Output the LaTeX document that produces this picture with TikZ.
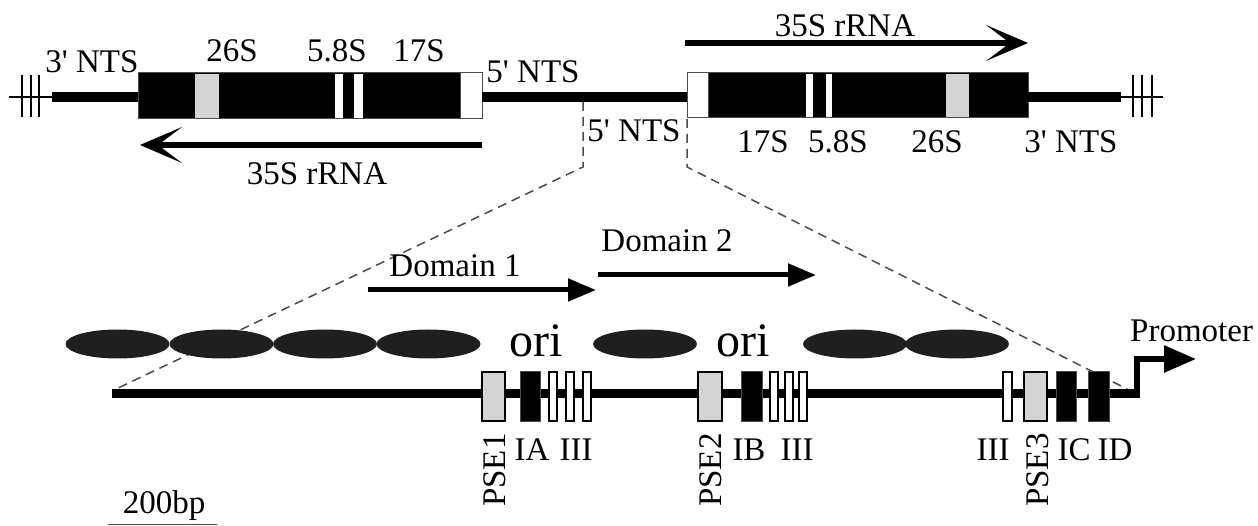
\documentclass[tikz,border=0pt]{standalone}
\usepackage{fontspec}
\setmainfont{Liberation Serif}
\usetikzlibrary{arrows.meta}
\definecolor{lgray}{gray}{0.83}
\definecolor{dgray}{gray}{0.3}
\newcommand{\qs}{\textquotesingle}
\tikzset{
  lbl/.style={font=\fontsize{33}{36}\selectfont, inner sep=0pt, anchor=base},
  orilbl/.style={font=\fontsize{48}{52}\selectfont, inner sep=0pt, anchor=base},
  rot/.style={lbl, rotate=90, anchor=base west},
  thick line/.style={line width=10pt},
  thin line/.style={line width=2pt},
  hatch/.style={line width=2.5pt},
  blk/.style={fill=black, draw=dgray, line width=1pt},
  wht/.style={fill=white, draw=black, line width=1.5pt},
  gry/.style={fill=lgray, draw=black, line width=1.5pt},
  zoomline/.style={dgray, line width=1.5pt, dash pattern=on 9pt off 6pt},
  bigarrow/.style={line width=6pt, -{Stealth[length=42pt,width=36pt,inset=24pt]}},
  domarrow/.style={line width=5pt, -{Triangle[length=28pt,width=22pt]}},
  ell/.style={fill=black!88, draw=none},
}
\begin{document}
\begin{tikzpicture}[x=1pt,y=-1pt]
\useasboundingbox (0,0) rectangle (1258,526);

% ---------- top: left unit ----------
\draw[thin line] (9,97) -- (52,97);
\foreach \hx in {22,31,39} \draw[hatch] (\hx,75) -- (\hx,117);
\draw[thick line] (52,97) -- (138,97);
\path[blk] (138,73) rectangle (482,119);
\path[gry, draw=none] (195,74) rectangle (219,118);
\path[fill=white] (335,74) rectangle (343,118);
\path[fill=white] (354,74) rectangle (363,118);
\path[fill=white, draw=dgray, line width=1pt] (460,73) rectangle (482,119);

% middle spacer
\draw[thick line] (482,97) -- (687,97);

% ---------- top: right unit ----------
\path[blk] (687,73) rectangle (1028,118);
\path[fill=white, draw=dgray, line width=1pt] (687,73) rectangle (708,118);
\path[fill=white] (806,74) rectangle (813,117);
\path[fill=white] (826,74) rectangle (832,117);
\path[gry, draw=none] (946,74) rectangle (969,117);
\draw[thick line] (1028,97) -- (1121,97);
\draw[thin line] (1121,97) -- (1163,97);
\foreach \hx in {1133,1142,1152} \draw[hatch] (\hx,75) -- (\hx,117);

% top labels
\node[lbl] (ntsL) at (92,73) {3\qs{} NTS};
\node[lbl] (s26L) at (232,62) {26S};
\node[lbl] (s58L) at (337,62) {5.8S};
\node[lbl] (s17L) at (419,62) {17S};
\node[lbl] (nts5a) at (533,83) {5\qs{} NTS};
\node[lbl] (nts5b) at (634,142) {5\qs{} NTS};
\node[lbl] (s17R) at (763,153) {17S};
\node[lbl] (s58R) at (838,153) {5.8S};
\node[lbl] (s26R) at (937,153) {26S};
\node[lbl] (ntsR) at (1071,153) {3\qs{} NTS};
\node[lbl] (rnaR) at (845,37) {35S rRNA};
\node[lbl] (rnaL) at (317,185) {35S rRNA};

% transcript arrows
\coordinate (aRs) at (685,43);
\coordinate (aRe) at (1028,43);
\coordinate (aLs) at (482,145);
\coordinate (aLe) at (140,145);
\draw[bigarrow] (aRs) -- (aRe);
\draw[bigarrow] (aLs) -- (aLe);

% ---------- zoom lines ----------
\coordinate (zl0) at (583,102);
\coordinate (zl1) at (583,167);
\coordinate (zl2) at (116,389);
\coordinate (zr0) at (687,119);
\coordinate (zr1) at (687,167);
\coordinate (zr2) at (1127,389);
\draw[zoomline] (zl0) -- (zl1) -- (zl2);
\draw[zoomline] (zr0) -- (zr1) -- (zr2);

% ---------- bottom ----------
\node[lbl] (d1) at (455,277) {Domain 1};
\node[lbl] (d2) at (667,252) {Domain 2};
\coordinate (d1s) at (368,290);
\coordinate (d1e) at (596,290);
\coordinate (d2s) at (598,275);
\coordinate (d2e) at (816,275);
\draw[domarrow] (d1s) -- (d1e);
\draw[domarrow] (d2s) -- (d2e);

% nucleosomes
\foreach \ex in {117.5,221.5,325,428.5,645,855,957}
  \path[ell] (\ex,344) ellipse [x radius=52, y radius=14.5];

\node[orilbl] (ori1) at (536,357) {ori};
\node[orilbl] (ori2) at (743,357) {ori};

% main line with promoter
\coordinate (ls) at (112,393);
\coordinate (pc) at (1137,393);
\coordinate (pu) at (1137,359);
\coordinate (pt) at (1196,359);
\draw[line width=9pt] (ls) -- (pc);
\draw[line width=6pt, -{Triangle[length=32pt,width=26pt]}] ([yshift=-4.5pt]pc) -- (pu) -- (pt);
\node[lbl, anchor=base west] (prom) at (1130,342) {Promoter};

% elements
\path[gry] (482,372) rectangle (505,421);
\path[blk] (520,372) rectangle (540,421);
\foreach \bx in {549,566,583} \path[wht] (\bx,372) rectangle ++(8,49);
\path[gry] (698,372) rectangle (722,421);
\path[blk] (741,372) rectangle (762,421);
\foreach \bx in {770,785,799} \path[wht] (\bx,372) rectangle ++(8,49);
\path[wht] (1003,372) rectangle (1012,421);
\path[gry] (1024,372) rectangle (1047,421);
\path[blk] (1056,372) rectangle (1076,421);
\path[blk] (1088,372) rectangle (1109,421);

% element labels
\node[rot] (pse1) at (505,507) {PSE1};
\node[lbl] (ia) at (532,460) {IA};
\node[lbl] (iii1) at (576,460) {III};
\node[rot] (pse2) at (721,507) {PSE2};
\node[lbl] (ib) at (749,460) {IB};
\node[lbl] (iii2) at (797,460) {III};
\node[lbl] (iii3) at (993,460) {III};
\node[rot] (pse3) at (1048,507) {PSE3};
\node[lbl] (ic) at (1074,460) {IC};
\node[lbl] (id) at (1115,460) {ID};

% scale bar
\node[lbl] (bp) at (164,513) {200bp};
\coordinate (sb0) at (108,524.5);
\coordinate (sb1) at (217,524.5);
\draw[dgray, line width=1.5pt] (sb0) -- (sb1);
\end{tikzpicture}
\end{document}
